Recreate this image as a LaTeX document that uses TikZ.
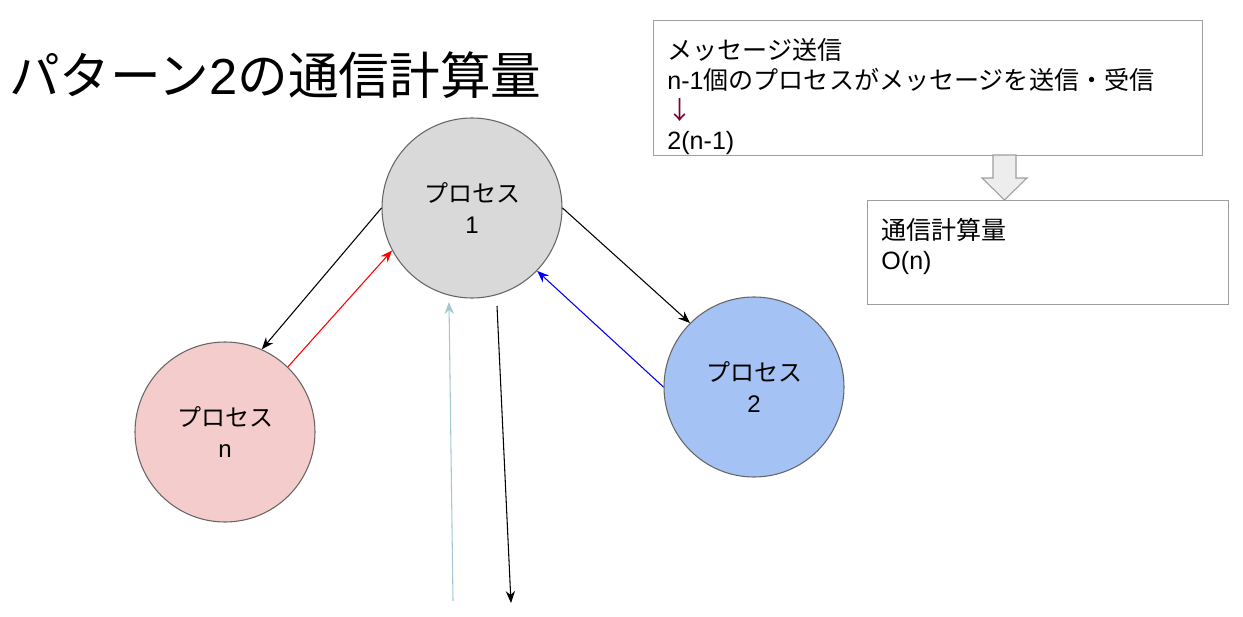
\documentclass[tikz,border=0pt]{standalone}
\usepackage{fontspec}
\setmainfont{Liberation Sans}
\newfontfamily\cjk{Noto Sans CJK JP}
\usetikzlibrary{arrows.meta}
\definecolor{pone}{HTML}{D9D9D9}
\definecolor{pn}{HTML}{F4CCCC}
\definecolor{ptwo}{HTML}{A4C2F4}
\definecolor{circlestroke}{HTML}{666666}
\definecolor{boxstroke}{HTML}{9E9E9E}
\definecolor{lightline}{HTML}{A5C8CE}
\definecolor{arrowred}{HTML}{770033}
\tikzset{
  proc/.style={circle,draw=circlestroke,line width=0.8pt,minimum size=135pt,inner sep=0pt,
    align=center,font=\fontsize{18}{23}\selectfont},
  infobox/.style={rectangle,draw=boxstroke,line width=0.9pt,anchor=north west,inner xsep=10pt,
    inner ysep=0pt,align=left,font=\fontsize{18.8}{22.7}\selectfont},
  conn/.style={line width=0.8pt,-{Stealth[length=9pt,width=7pt,inset=3pt]}},
}
\begin{document}
\begin{tikzpicture}[x=0.75pt,y=-0.75pt]
\useasboundingbox (0,0) rectangle (1243,617);
\node[anchor=base west,inner sep=0pt,font=\fontsize{38}{40}\selectfont] (title) at (9,95)
  {{\cjk パターン}2{\cjk の通信計算量}};
\node[proc,fill=pone] (p1) at (472,208) {{\cjk プロセス}\\1};
\node[proc,fill=pn] (pn) at (225,432) {{\cjk プロセス}\\n};
\node[proc,fill=ptwo] (p2) at (754,387) {{\cjk プロセス}\\2};
\node[infobox,minimum width=411.75pt,minimum height=101.25pt,text width=391pt] (b1) at (653,20)
  {\rule{0pt}{28.5pt}{\cjk メッセージ送信}\\n-1{\cjk 個のプロセスがメッセージを送信・受信}\\{\color{arrowred}\cjk ↓}\\2(n-1)};
\node[infobox,minimum width=270.75pt,minimum height=78pt,text width=250pt] (b2) at (867,200)
  {\rule{0pt}{26pt}{\cjk 通信計算量}\\O(n)\\\mbox{}};
\draw[draw=boxstroke,fill=black!7,line width=0.8pt]
  (993,155) -- (1016,155) -- (1016,178) -- (1027,178) -- (1004.5,200) -- (982,178) -- (993,178) -- cycle;
\draw[conn] (p1.180) -- (pn.66);
\draw[conn,red] (pn.46) -- (p1.208);
\draw[conn] (p1.0) -- (p2.135);
\draw[conn,blue] (p2.180) -- (p1.-44);
\coordinate (lb) at (453,601);
\coordinate (lt) at (449,302);
\coordinate (dt) at (497,306);
\coordinate (db) at (511,603);
\draw[conn,lightline] (lb) -- (lt);
\draw[conn] (dt) -- (db);
\end{tikzpicture}
\end{document}
